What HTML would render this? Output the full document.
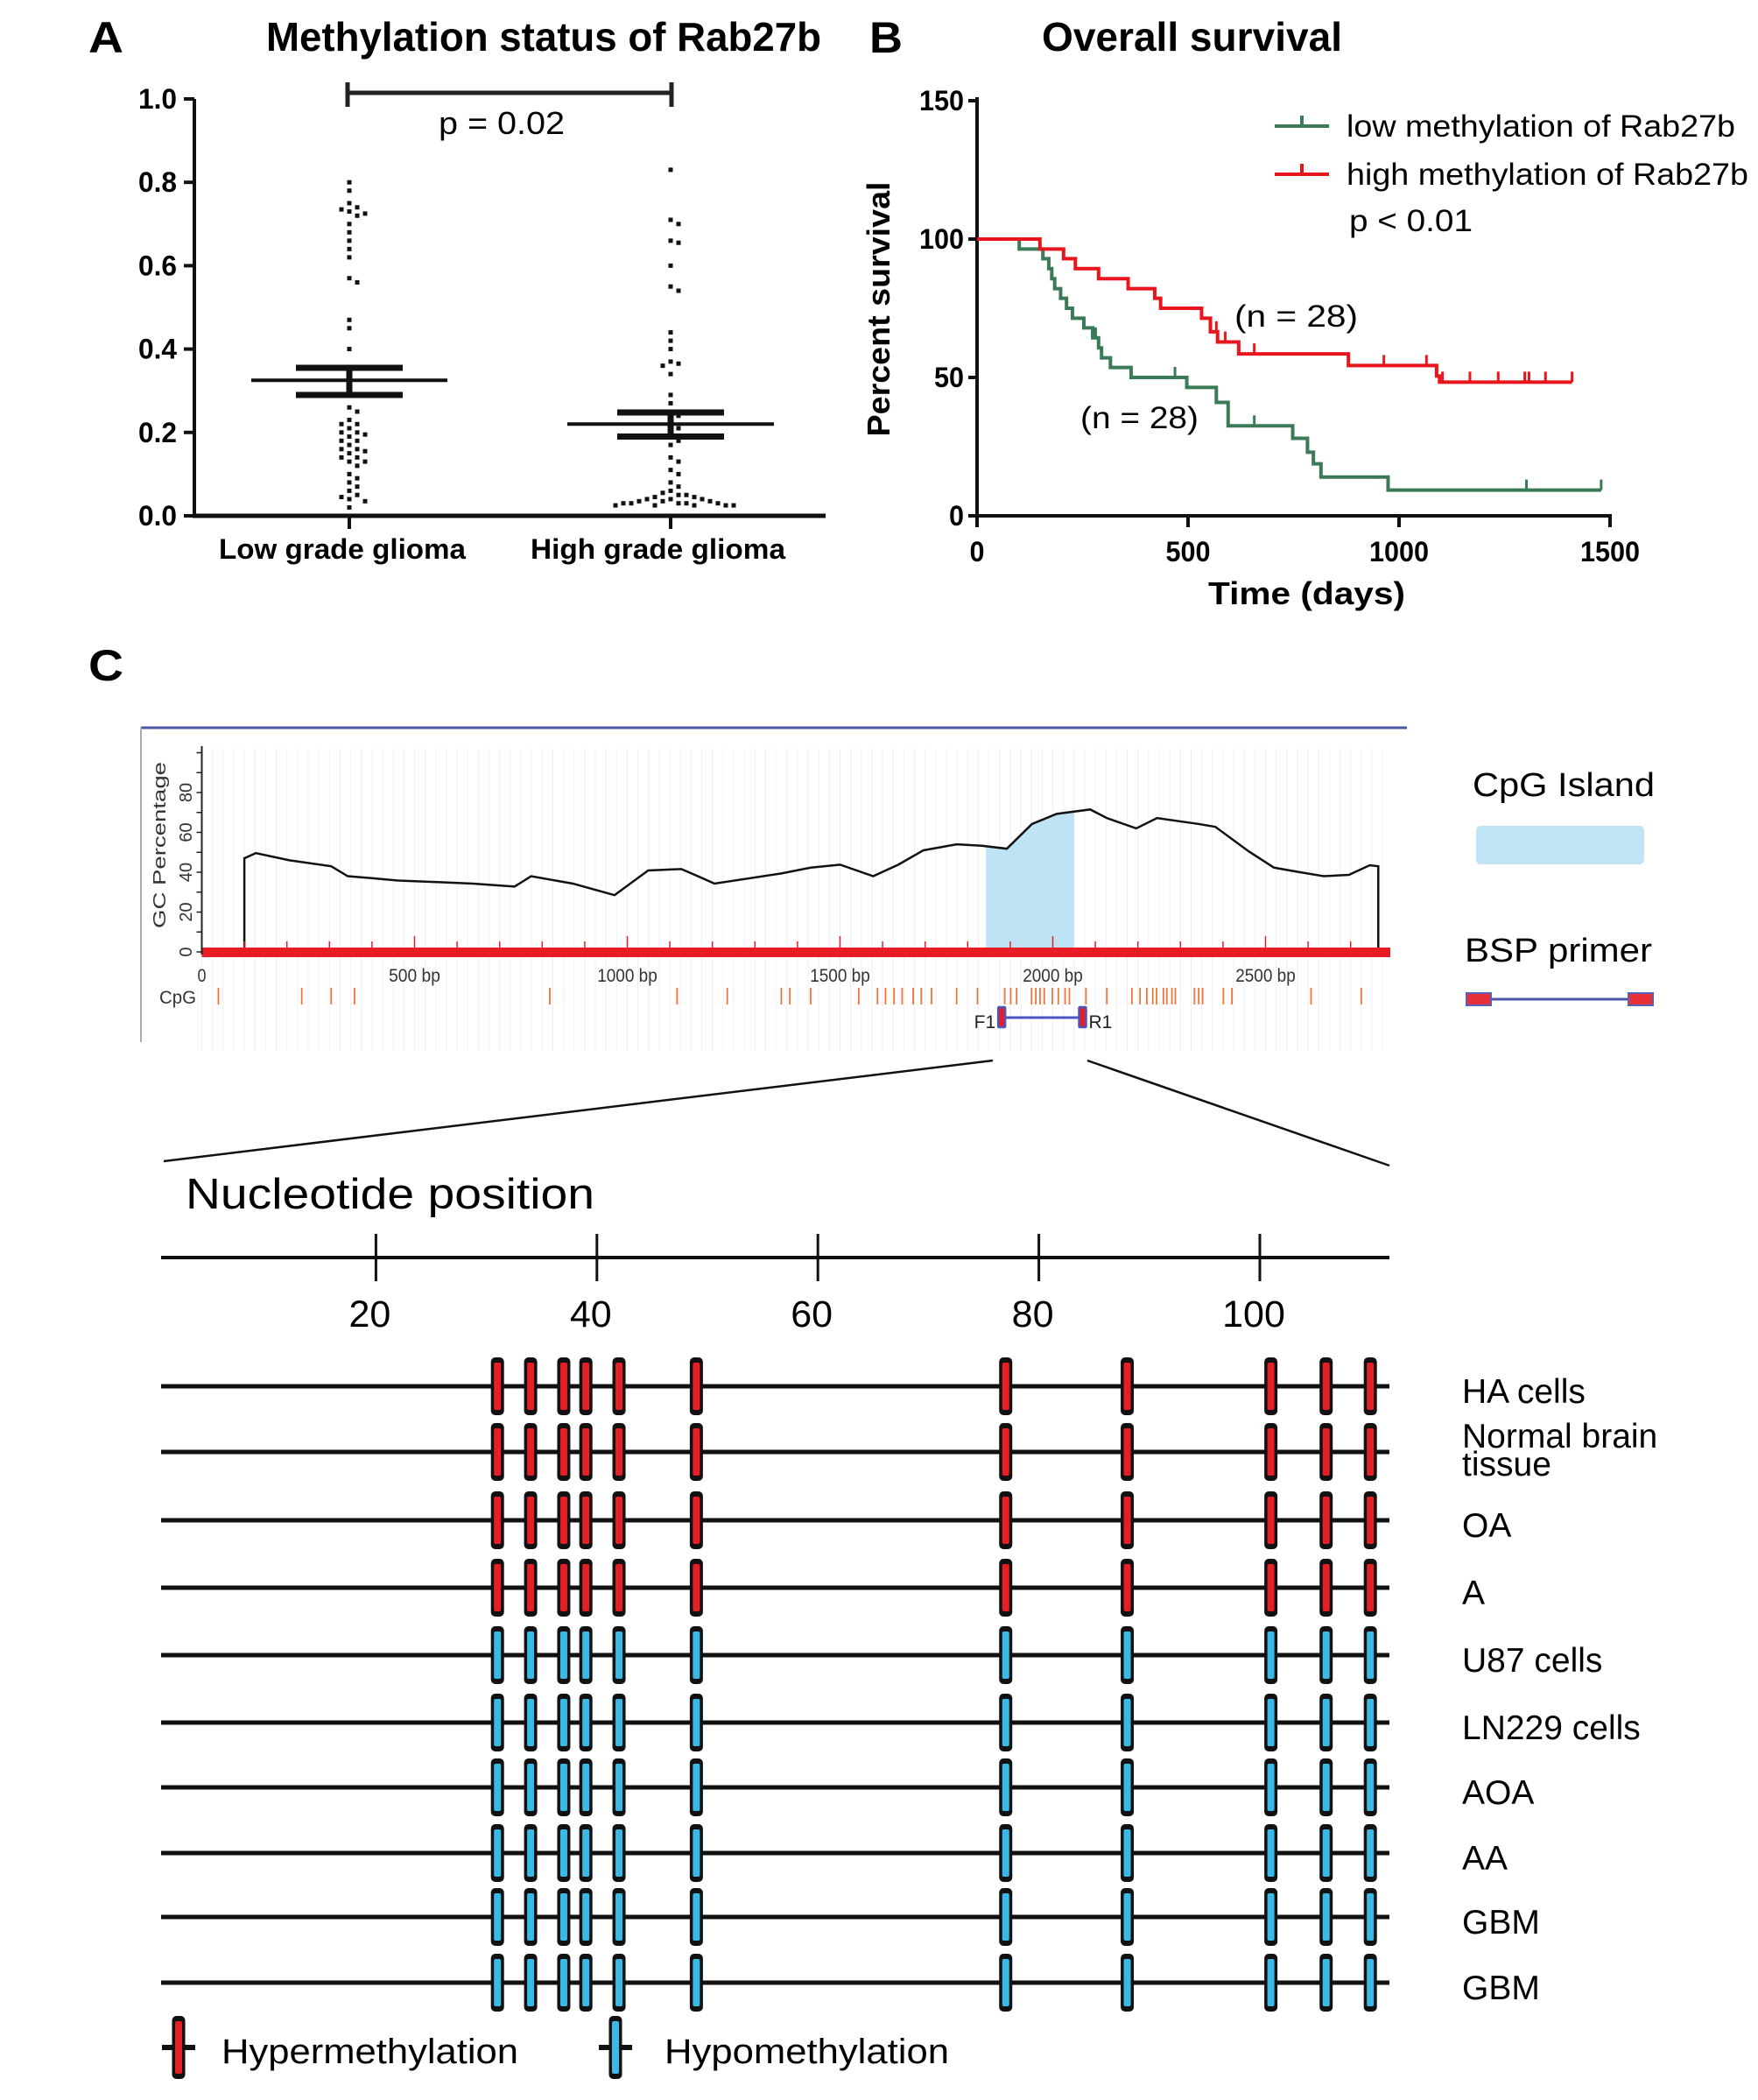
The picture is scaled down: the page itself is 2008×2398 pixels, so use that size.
<!DOCTYPE html>
<html><head><meta charset="utf-8"><style>
html,body{margin:0;padding:0;background:#fff;}
svg{display:block;font-family:"Liberation Sans",sans-serif;}
.b{font-weight:bold;}
</style></head><body>
<svg id="fig" width="2008" height="2398" viewBox="0 0 2008 2398" xmlns="http://www.w3.org/2000/svg">
<g id="panelA">
<text class="b" x="101" y="60" font-size="50" textLength="40" lengthAdjust="spacingAndGlyphs">A</text>
<text class="b" x="304" y="58" font-size="46" textLength="634" lengthAdjust="spacingAndGlyphs">Methylation status of Rab27b</text>
</g>
<g id="panelB">
<text class="b" x="993" y="60" font-size="50" textLength="38" lengthAdjust="spacingAndGlyphs">B</text>
<text class="b" x="1190" y="58" font-size="46" textLength="343" lengthAdjust="spacingAndGlyphs">Overall survival</text>
</g>
<g id="panelC">
<text class="b" x="101" y="777" font-size="50" textLength="40" lengthAdjust="spacingAndGlyphs">C</text>
</g>
</svg>
<script>
// ---------- Panel A data ----------
const lowGrade=[0.80,0.78,0.75,0.74,0.735,0.73,0.725,0.72,0.70,0.68,0.66,0.64,0.62,0.57,0.56,0.47,0.45,0.40,0.26,0.25,0.23,0.22,0.22,0.21,0.20,0.20,0.195,0.19,0.18,0.18,0.17,0.16,0.16,0.155,0.15,0.14,0.14,0.13,0.13,0.12,0.10,0.09,0.08,0.07,0.06,0.05,0.045,0.04,0.035,0.02];
const highGrade=[0.83,0.71,0.70,0.66,0.655,0.60,0.55,0.54,0.44,0.42,0.40,0.37,0.365,0.36,0.34,0.29,0.27,0.25,0.24,0.22,0.21,0.19,0.18,0.17,0.14,0.13,0.11,0.10,0.08,0.07,0.06,0.055,0.05,0.05,0.045,0.045,0.04,0.04,0.04,0.035,0.035,0.035,0.03,0.03,0.03,0.03,0.03,0.025,0.025,0.025,0.025,0.025];
const groupNames=["Low grade glioma","High grade glioma"];
const groupMeans=[0.325,0.22];
const groupSEMupper=[0.355,0.248];
const groupSEMlower=[0.29,0.19];
const yTicksA=["0.0","0.2","0.4","0.6","0.8","1.0"];
const pValueA="p = 0.02";
// ---------- Panel B data ----------
const highTimes=[149,205,233,288,358,421,435,532,553,570,620,880,1089,1096];
const highSurv=[96.4,92.9,89.3,85.7,82.1,78.6,75.0,71.4,66.5,62.8,58.5,54.3,50.5,48.3];
const highEnd=1410;
const highCensor=[553,567,588,657,964,1065,1103,1168,1235,1298,1308,1347,1410];
const lowTimes=[100,156,170,177,184,198,212,226,253,274,288,295,316,365,497,567,595,748,783,797,815,974];
const lowSurv=[96.4,92.9,89.3,85.7,82.1,78.6,75.0,71.4,67.9,64.3,60.7,57.1,53.6,50.0,46.4,41.0,32.5,28.0,23.0,18.8,14.0,9.3];
const lowEnd=1479;
const lowCensor=[281,469,657,1302,1479];
const xTicksB=[0,500,1000,1500];
const yTicksB=[0,50,100,150];
// ---------- Panel C data ----------
const gcBp=[100,127,206,304,343,402,461,559,637,735,774,872,970,1049,1127,1166,1205,1362,1431,1500,1578,1637,1696,1774,1833,1892,1951,2009,2088,2127,2196,2245,2343,2382,2461,2520,2578,2637,2696,2745,2765];
const gcVal=[47,49.6,46,43,38,37,35.8,35,34.3,32.8,38,34.3,28.5,40.9,41.6,38,34.3,39.4,42.3,43.8,38,43.8,51,54,53.3,51.8,64.2,69.3,71.5,67.2,62,67.2,64.2,62.8,50.4,42.3,40.1,38,38.7,43.5,43];
const islandStart=1843, islandEnd=2050;
const cpgBp=[39,235,304,359,818,1117,1235,1362,1382,1431,1544,1588,1607,1627,1646,1672,1691,1715,1774,1823,1887,1901,1915,1950,1960,1970,1980,1999,2013,2029,2039,2078,2127,2186,2205,2221,2235,2244,2260,2268,2280,2288,2333,2343,2352,2401,2421,2607,2725];
const bpTicks=["0","500 bp","1000 bp","1500 bp","2000 bp","2500 bp"];
const gcTicks=[0,20,40,60,80];
const primerF1=1880, primerR1=2070;
const nucTicks=[20,40,60,80,100];
const cpgSites=[31,34,37,39,42,49,77,88,101,106,110];
const sampleNames=["HA cells","Normal brain|tissue","OA","A","U87 cells","LN229 cells","AOA","AA","GBM","GBM"];
const sampleStatus=["hyper","hyper","hyper","hyper","hypo","hypo","hypo","hypo","hypo","hypo"];

const NS="http://www.w3.org/2000/svg";
const svg=document.getElementById('fig');
function mk(tag,attrs,parent,txt){const e=document.createElementNS(NS,tag);for(const k in attrs)e.setAttribute(k,attrs[k]);if(txt!==undefined)e.textContent=txt;(parent||svg).appendChild(e);return e;}
const gA=document.getElementById('panelA'),gB=document.getElementById('panelB'),gC=document.getElementById('panelC');

// ===== Panel A =====
const yA=v=>589-v*476;
const xA=i=>[399,766][i];
let e;
e=mk('line',{x1:222,y1:113,x2:222,y2:591,stroke:'#111','stroke-width':4},gA);


e=mk('line',{x1:220,y1:589,x2:943,y2:589,stroke:'#111','stroke-width':5},gA);


yTicksA.forEach(t=>{const v=parseFloat(t);
 e=mk('line',{x1:210,y1:yA(v),x2:222,y2:yA(v),stroke:'#111','stroke-width':4},gA);
 
 
 e=mk('text',{x:202,y:yA(v)+11,'font-size':32,'text-anchor':'end',class:'b',textLength:44,lengthAdjust:'spacingAndGlyphs'},gA,t);
 
 
});
groupNames.forEach((n,i)=>{
 e=mk('line',{x1:xA(i),y1:589,x2:xA(i),y2:604,stroke:'#111','stroke-width':4},gA);
 
 
 e=mk('text',{x:[250,606][i],y:638,'font-size':32,class:'b',textLength:[282,291][i],lengthAdjust:'spacingAndGlyphs'},gA,n);
 
 
});
e=mk('path',{d:'M397 94V122M397 106H767M767 94V122',stroke:'#222','stroke-width':5,fill:'none'},gA);


e=mk('text',{x:501,y:153,'font-size':36,textLength:144,lengthAdjust:'spacingAndGlyphs'},gA,pValueA);


[lowGrade,highGrade].forEach((arr,gi)=>{
 const placed=[];const cx=xA(gi);
 arr.forEach(v=>{const y=yA(v);let off=0;
  for(let k=0;k<40;k++){const cand=(k%2?1:-1)*Math.ceil(k/2)*9;
   if(placed.every(p=>Math.hypot(p[0]-(cx+cand),p[1]-y)>=8)){off=cand;break;}}
  placed.push([cx+off,y]);
  e=mk('rect',{x:cx+off-2.5,y:y-2.5,width:5,height:5,fill:'#111'},gA);
  
  
 });
 const mw=[112,118][gi], sw=[61,61][gi];
 e=mk('line',{x1:cx-mw,y1:yA(groupMeans[gi]),x2:cx+mw,y2:yA(groupMeans[gi]),stroke:'#111','stroke-width':4},gA);
 
 
 e=mk('path',{d:`M${cx-sw} ${yA(groupSEMupper[gi])}H${cx+sw}M${cx-sw} ${yA(groupSEMlower[gi])}H${cx+sw}M${cx} ${yA(groupSEMupper[gi])}V${yA(groupSEMlower[gi])}`,stroke:'#111','stroke-width':7,fill:'none'},gA);
 
 
});

// ===== Panel B =====
const xB=t=>1116+t*(1839-1116)/1500;
const yB=p=>589-p*3.16;
e=mk('line',{x1:1116,y1:111,x2:1116,y2:591,stroke:'#111','stroke-width':4},gB);


e=mk('line',{x1:1114,y1:589,x2:1841,y2:589,stroke:'#111','stroke-width':4},gB);


yTicksB.forEach(v=>{
 e=mk('line',{x1:1106,y1:yB(v),x2:1116,y2:yB(v),stroke:'#111','stroke-width':4},gB);
 
 
 const s=String(v);
 e=mk('text',{x:1101,y:yB(v)+11,'font-size':32,'text-anchor':'end',class:'b',textLength:s.length*17,lengthAdjust:'spacingAndGlyphs'},gB,s);
 
 
});
xTicksB.forEach(v=>{
 e=mk('line',{x1:xB(v),y1:589,x2:xB(v),y2:602,stroke:'#111','stroke-width':4},gB);
 
 
 const s=String(v);
 e=mk('text',{x:xB(v),y:641,'font-size':32,'text-anchor':'middle',class:'b',textLength:s.length*17,lengthAdjust:'spacingAndGlyphs'},gB,s);
 
 
});
e=mk('text',{x:1380,y:690,'font-size':36,class:'b',textLength:225,lengthAdjust:'spacingAndGlyphs'},gB,'Time  (days)');


e=mk('text',{x:0,y:0,'font-size':36,class:'b','text-anchor':'middle',transform:'translate(1016 353) rotate(-90)',textLength:291,lengthAdjust:'spacingAndGlyphs'},gB,'Percent survival');


function km(times,surv,end,censor,color,name){
 let d=`M${xB(0)} ${yB(100)}`;
 times.forEach((t,i)=>{d+=`H${xB(t)}V${yB(surv[i])}`;});
 d+=`H${xB(end)}`;
 e=mk('path',{d:d,stroke:color,'stroke-width':4,fill:'none'},gB);
 
 
 censor.forEach(c=>{let s=100;times.forEach((t,i)=>{if(t<=c)s=surv[i];});
  e=mk('line',{x1:xB(c),y1:yB(s),x2:xB(c),y2:yB(s)-12,stroke:color,'stroke-width':3},gB);
  
  
 });
}
km(lowTimes,lowSurv,lowEnd,lowCensor,'#3b7a57','low-methylation');
km(highTimes,highSurv,highEnd,highCensor,'#e8151d','high-methylation');
[['#3b7a57',144,'low methylation of Rab27b',444],['#e8151d',199,'high methylation of Rab27b',459]].forEach(([c,y,t,w])=>{
 e=mk('path',{d:`M1456 ${y}H1518M1487 ${y}V${y-12}`,stroke:c,'stroke-width':4,fill:'none'},gB);
 
 
 e=mk('text',{x:1538,y:y+12,'font-size':35,textLength:w,lengthAdjust:'spacingAndGlyphs'},gB,t);
 
 
});
e=mk('text',{x:1541,y:264,'font-size':35,textLength:141,lengthAdjust:'spacingAndGlyphs'},gB,'p < 0.01');


e=mk('text',{x:1410,y:373,'font-size':35,textLength:141,lengthAdjust:'spacingAndGlyphs'},gB,'(n = 28)');


e=mk('text',{x:1234,y:489,'font-size':35,textLength:135,lengthAdjust:'spacingAndGlyphs'},gB,'(n = 28)');



// ===== Panel C: GC plot =====
const xC=bp=>230.5+bp*0.486;
const yC=g=>1087-g*2.275;
for(let bp=0;bp<=2790;bp+=25){
 e=mk('line',{x1:xC(bp),y1:855,x2:xC(bp),y2:1200,stroke:'#f0f0f4','stroke-width':1},gC);
 
 
}
e=mk('line',{x1:161,y1:831,x2:1607,y2:831,stroke:'#4b56a6','stroke-width':3},gC);


e=mk('line',{x1:161,y1:831,x2:161,y2:1190,stroke:'#aaa','stroke-width':2},gC);


let cd=`M${xC(gcBp[0])} ${yC(0)}`;gcBp.forEach((b,i)=>{cd+=`L${xC(b)} ${yC(gcVal[i])}`;});cd+=`L${xC(gcBp[gcBp.length-1])} ${yC(0)}`;
mk('clipPath',{id:'isl'},gC);
const cp=gC.lastChild;
mk('rect',{x:xC(islandStart),y:800,width:xC(islandEnd)-xC(islandStart),height:300},cp);
e=mk('path',{d:cd+'Z',fill:'#bde3f4','clip-path':'url(#isl)'},gC);


e=mk('path',{d:`M${xC(0)} ${yC(0)}`+cd.replace('M','L')+`L1588 ${yC(0)}`,stroke:'#111','stroke-width':2.5,fill:'none'},gC);


e=mk('rect',{x:xC(0),y:1082,width:1588-xC(0),height:11,fill:'#e81c24'},gC);


for(let bp=100;bp<=2700;bp+=100){const tall=bp%500===0;
 e=mk('line',{x1:xC(bp),y1:1083,x2:xC(bp),y2:tall?1069:1075,stroke:'#e81c24','stroke-width':1.5},gC);
 
 
}
e=mk('line',{x1:xC(0),y1:852,x2:xC(0),y2:1090,stroke:'#222','stroke-width':2},gC);


for(let g=0;g<=100;g+=10){
 e=mk('line',{x1:xC(0)-6,y1:yC(g),x2:xC(0),y2:yC(g),stroke:'#222','stroke-width':1.5},gC);
 
 
}
gcTicks.forEach(g=>{
 e=mk('text',{x:0,y:0,'font-size':20,'text-anchor':'middle',fill:'#333',transform:`translate(219 ${yC(g)}) rotate(-90)`},gC,String(g));
 
 
});
e=mk('text',{x:0,y:0,'font-size':20,'text-anchor':'middle',fill:'#333',transform:'translate(189 965) rotate(-90)',textLength:190,lengthAdjust:'spacingAndGlyphs'},gC,'GC Percentage');


bpTicks.forEach((t,i)=>{
 e=mk('text',{x:xC(i*500),y:1121,'font-size':21,fill:'#333','text-anchor':'middle',textLength:t.length>1?t.length*9.8:10,lengthAdjust:'spacingAndGlyphs'},gC,t);
 
 
});
e=mk('text',{x:182,y:1146,'font-size':21,fill:'#333',textLength:42,lengthAdjust:'spacingAndGlyphs'},gC,'CpG');


cpgBp.forEach(b=>{
 e=mk('line',{x1:xC(b),y1:1128,x2:xC(b),y2:1147,stroke:'#f0743c','stroke-width':1.8},gC);
 
 
});
e=mk('line',{x1:xC(primerF1),y1:1162,x2:xC(primerR1),y2:1162,stroke:'#4b56c0','stroke-width':3},gC);


[primerF1,primerR1].forEach(p=>{
 e=mk('rect',{x:xC(p)-4,y:1150,width:8,height:23,fill:'#e81c24',stroke:'#4b56c0','stroke-width':2.5,rx:1},gC);
 
 
});
e=mk('text',{x:xC(primerF1)-7,y:1174,'font-size':21,'text-anchor':'end',fill:'#222'},gC,'F1');


e=mk('text',{x:xC(primerR1)+7,y:1174,'font-size':21,fill:'#222'},gC,'R1');


e=mk('text',{x:1682,y:909,'font-size':38,textLength:208,lengthAdjust:'spacingAndGlyphs'},gC,'CpG Island');


e=mk('rect',{x:1686,y:943,width:192,height:44,fill:'#bfe4f5',rx:5},gC);


e=mk('text',{x:1673,y:1098,'font-size':38,textLength:214,lengthAdjust:'spacingAndGlyphs'},gC,'BSP primer');


e=mk('path',{d:'M1700 1141H1866',stroke:'#4b56a6','stroke-width':3},gC);


[1675,1860].forEach(x=>{
 e=mk('rect',{x:x,y:1134,width:28,height:14,fill:'#e8303a',stroke:'#5a5fb8','stroke-width':2},gC);
 
 
});
e=mk('path',{d:'M1134 1211L187 1326M1242 1211L1587 1331',stroke:'#111','stroke-width':2.5,fill:'none'},gC);



// ===== Panel C: lollipop =====
const xN=p=>177+p*12.62;
e=mk('text',{x:212,y:1380,'font-size':49,textLength:467,lengthAdjust:'spacingAndGlyphs'},gC,'Nucleotide position');


e=mk('line',{x1:184,y1:1436,x2:1587,y2:1436,stroke:'#111','stroke-width':4},gC);


nucTicks.forEach(p=>{
 e=mk('line',{x1:xN(p),y1:1409,x2:xN(p),y2:1463,stroke:'#111','stroke-width':3},gC);
 
 
 e=mk('text',{x:xN(p)-7,y:1515,'font-size':43,'text-anchor':'middle'},gC,String(p));
 
 
});
const rowY=[1583,1658,1736,1813,1890,1967,2041,2116,2189,2264];
function marker(x,y,status,name){
 e=mk('rect',{x:x-7.5,y:y-33,width:15,height:66,rx:5,fill:'#111'},gC);
 
 
 e=mk('rect',{x:x-4,y:y-27,width:8,height:54,rx:2,fill:status==='hyper'?'#e41f26':'#3bb9e6'},gC);
 
 
}
sampleNames.forEach((n,i)=>{const y=rowY[i];
 e=mk('line',{x1:184,y1:y,x2:1587,y2:y,stroke:'#111','stroke-width':5},gC);
 
 
 cpgSites.forEach(p=>marker(xN(p),y,sampleStatus[i],'cpg-methylation-marker'));
 const parts=n.split('|');
 parts.forEach((pt,j)=>{
  e=mk('text',{x:1670,y:(parts.length>1?y-5:y+19)+j*32,'font-size':39},gC,pt);
  
  
 });
});
[['hyper',204,253,'Hypermethylation',339],['hypo',703,759,'Hypomethylation',325]].forEach(([s,mx,tx,t,w])=>{
 e=mk('line',{x1:mx-19,y1:2338,x2:mx+19,y2:2338,stroke:'#111','stroke-width':6},gC);
 
 
 e=mk('rect',{x:mx-7.5,y:2302,width:15,height:72,rx:5,fill:'#111'},gC);
 
 
 e=mk('rect',{x:mx-4,y:2308,width:8,height:60,rx:2,fill:s==='hyper'?'#e41f26':'#3bb9e6'},gC);
 
 
 e=mk('text',{x:tx,y:2356,'font-size':40,textLength:w,lengthAdjust:'spacingAndGlyphs'},gC,t);
 
 
});
</script>
</body></html>
